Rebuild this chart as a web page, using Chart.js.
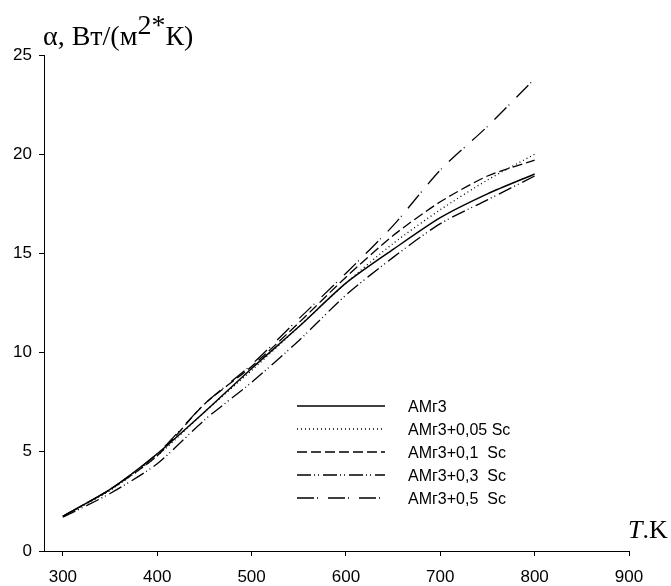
<!DOCTYPE html>
<html>
<head>
<meta charset="utf-8">
<script src="https://cdn.jsdelivr.net/npm/chart.js@4.4.1/dist/chart.umd.min.js"></script>
<style>
  html, body { margin: 0; padding: 0; background: #fff; }
  canvas { display: block; }
</style>
</head>
<body>
<canvas id="chart" width="671" height="586"></canvas>
<script>
// температура, K
const temps = [300, 350, 400, 450, 500, 550, 600, 650, 700, 750, 800];

// α, Вт/(м2*К) по сплавам
const amg3   = [1.75, 3.1, 4.9, 7.0, 9.2, 11.3, 13.5, 15.2, 16.8, 18.0, 19.0];
const sc005  = [1.75, 3.05, 4.8, 7.0, 9.1, 11.3, 13.5, 15.5, 17.2, 18.7, 20.0];
const sc01   = [1.75, 3.1, 4.8, 7.4, 9.3, 11.5, 13.8, 15.9, 17.6, 18.9, 19.7];
const sc03   = [1.7, 2.9, 4.4, 6.6, 8.5, 10.6, 12.9, 14.8, 16.5, 17.7, 18.9];
const sc05   = [1.75, 3.1, 4.9, 7.4, 9.4, 11.7, 14.0, 16.4, 19.2, 21.4, 23.8];

const names  = ['АМг3', 'АМг3+0,05 Sc', 'АМг3+0,1  Sc', 'АМг3+0,3  Sc', 'АМг3+0,5  Sc'];
const xTicks = [300, 400, 500, 600, 700, 800, 900];

const toPts = arr => arr.map((v, i) => ({ x: temps[i], y: v }));

// стили линий
const dashes = [[], [1, 3], [10, 4], [14, 3, 1, 3, 1, 4], [17, 3, 1, 10]];
const widths = [1.5, 1.3, 1.3, 1.3, 1.3];

const series = [amg3, sc005, sc01, sc03, sc05];

// ——— подписи и легенда ———
const extras = {
  id: 'extras',
  afterDraw(chart) {
    const ctx = chart.ctx;
    ctx.save();
    ctx.fillStyle = '#000';
    ctx.textBaseline = 'alphabetic';

    // заголовок оси Y
    ctx.font = '28px "Liberation Serif", "Times New Roman", serif';
    let x = 43, base = 45;
    ctx.fillText('α, Вт/(м', x, base);
    x += ctx.measureText('α, Вт/(м').width;
    ctx.fillText('2*', x, base - 11);
    x += ctx.measureText('2*').width;
    ctx.fillText('К)', x, base);

    // подпись оси X
    ctx.font = 'italic 26px "Liberation Serif", serif';
    ctx.fillText('T', 628, 538);
    const tw = ctx.measureText('T').width;
    ctx.font = '26px "Liberation Serif", serif';
    ctx.fillText('.K', 628 + tw, 538);

    // легенда
    ctx.font = '16px "Liberation Sans", Arial, sans-serif';
    ctx.textBaseline = 'middle';
    chart.data.datasets.forEach((ds, i) => {
      const y = 406 + i * 23;
      ctx.beginPath();
      ctx.setLineDash(ds.borderDash || []);
      ctx.lineWidth = ds.borderWidth;
      ctx.strokeStyle = '#000';
      ctx.moveTo(297, y);
      ctx.lineTo(385, y);
      ctx.stroke();
      ctx.setLineDash([]);
      ctx.fillText(ds.label, 408, y + 2);
    });
    ctx.restore();
  }
};

const tickFont = { family: '"Liberation Sans Narrow", "Liberation Sans", Arial, sans-serif', size: 17 };

new Chart(document.getElementById('chart'), {
  type: 'line',
  data: {
    datasets: series.map((s, i) => ({
      label: names[i],
      data: toPts(s),
      borderColor: '#000',
      borderWidth: widths[i],
      borderDash: dashes[i],
      pointRadius: 0,
      tension: 0.25,
      fill: false
    }))
  },
  options: {
    responsive: false,
    animation: false,
    devicePixelRatio: 1,
    layout: { padding: { left: 0, top: 55, right: 42, bottom: 0 } },
    plugins: { legend: { display: false }, tooltip: { enabled: false } },
    scales: {
      x: {
        type: 'linear',
        min: 280,
        max: 900,
        afterBuildTicks: s => { s.ticks = xTicks.map(v => ({ value: v })); },
        afterFit: s => { s.height = 35; },
        grid: { display: true, drawOnChartArea: false, drawTicks: true, tickLength: 5, color: '#000' },
        border: { display: true, color: '#000', width: 1 },
        ticks: { color: '#000', font: tickFont, padding: 11, maxRotation: 0, autoSkip: false }
      },
      y: {
        min: 0,
        max: 25,
        afterFit: s => { s.width = 44; },
        grid: { display: true, drawOnChartArea: false, drawTicks: true, tickLength: 5, color: '#000' },
        border: { display: true, color: '#000', width: 1 },
        ticks: { color: '#000', font: tickFont, stepSize: 5, padding: 7 }
      }
    }
  },
  plugins: [extras]
});
</script>
</body>
</html>
